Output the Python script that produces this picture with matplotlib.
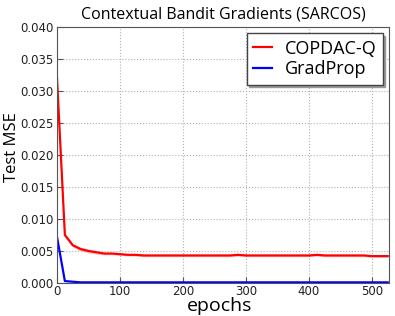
import matplotlib
matplotlib.use("Agg")
import matplotlib.pyplot as plt
import numpy as np

epochs = [0, 12.5, 25, 37.5, 50, 62.5, 75, 87.5, 100, 112.5, 125, 137.5, 150, 162.5, 175, 187.5,
          200, 212.5, 225, 237.5, 250, 262.5, 275, 287.5, 300, 312.5, 325, 337.5, 350, 362.5,
          375, 387.5, 400, 412.5, 425, 437.5, 450, 462.5, 475, 487.5, 500, 512.5, 525]
copdac = [0.0320, 0.0075, 0.0059, 0.0053, 0.0050, 0.0048, 0.0046, 0.0046, 0.0045, 0.0044, 0.0044,
          0.0043, 0.0043, 0.0043, 0.0043, 0.0043, 0.0043, 0.0043, 0.0043, 0.0043, 0.0043, 0.0043,
          0.0043, 0.0044, 0.0043, 0.0043, 0.0043, 0.0043, 0.0043, 0.0043, 0.0043, 0.0043, 0.0043,
          0.0044, 0.0043, 0.0043, 0.0043, 0.0043, 0.0043, 0.0043, 0.0042, 0.0042, 0.0042]
copdac_std = [0.0003, 0.0003, 0.0003, 0.0003, 0.0003, 0.0003, 0.0002, 0.0002, 0.0002, 0.0002, 0.0002,
              0.0002, 0.0002, 0.0002, 0.0002, 0.0002, 0.0002, 0.0002, 0.0002, 0.0002, 0.0002, 0.0002,
              0.0002, 0.0002, 0.0002, 0.0002, 0.0002, 0.0002, 0.0002, 0.0002, 0.0002, 0.0002, 0.0002,
              0.0002, 0.0002, 0.0002, 0.0002, 0.0002, 0.0002, 0.0002, 0.0002, 0.0002, 0.0002]
gradprop = [0.0072, 0.0003, 0.0002, 0.0001, 0.0001, 0.0001, 0.0001, 0.0001, 0.0001, 0.0001, 0.0001,
            0.0001, 0.0001, 0.0001, 0.0001, 0.0001, 0.0001, 0.0001, 0.0001, 0.0001, 0.0001, 0.0001,
            0.0001, 0.0001, 0.0001, 0.0001, 0.0001, 0.0001, 0.0001, 0.0001, 0.0001, 0.0001, 0.0001,
            0.0001, 0.0001, 0.0001, 0.0001, 0.0001, 0.0001, 0.0001, 0.0001, 0.0001, 0.0001]
yticks = [0.000, 0.005, 0.010, 0.015, 0.020, 0.025, 0.030, 0.035, 0.040]
xticks = [0, 100, 200, 300, 400, 500]

fig = plt.figure(figsize=(3.95, 3.16), dpi=100)
ax = fig.add_axes([57/395, 1-283/316, (389-57)/395, (283-27)/316])

x = np.array(epochs)
c = np.array(copdac)
s = np.array(copdac_std)
ax.fill_between(x, c - s, c + s, color="#ff9999", alpha=0.5, lw=0)
ax.plot(x, c, color="red", lw=1.6, label="COPDAC-Q")
ax.plot(x, gradprop, color="blue", lw=1.6, label="GradProp")

ax.set_xlim(0, 527)
ax.set_ylim(0, 0.040)
ax.set_xticks(xticks)
ax.set_yticks(yticks)
ax.set_yticklabels([f"{v:.3f}" for v in yticks])
ax.grid(True, color="#b0b0b0", linestyle=":", lw=0.8)
for sp in ax.spines.values():
    sp.set_color("#555555")
ax.tick_params(labelsize=8.5, color="#555555", direction="in", length=4, labelcolor="#222222", pad=2.5)
ax.tick_params(axis="x", pad=1.5)
ax.set_title("Contextual Bandit Gradients (SARCOS)", fontsize=11.5, family="Open Sans", pad=6)
ax.set_xlabel("epochs", fontsize=14, family="Open Sans")
ax.xaxis.set_label_coords(0.49, -0.053)
ax.set_ylabel("Test MSE", fontsize=12, family="Open Sans")
ax.yaxis.set_label_coords(-0.112, 0.53)
leg = ax.legend(loc="upper right", fancybox=False,
                shadow={"ox": 1.6, "oy": -1.6, "color": "#999999", "alpha": 1},
                prop={"family": "Open Sans", "size": 13}, handlelength=1.05,
                handletextpad=0.7, labelspacing=0.15, borderpad=0.35,
                borderaxespad=0.35, framealpha=1)
leg.get_frame().set_edgecolor("#444444")
leg.get_frame().set_linewidth(1.0)
fig.savefig("out.png", dpi=100)
